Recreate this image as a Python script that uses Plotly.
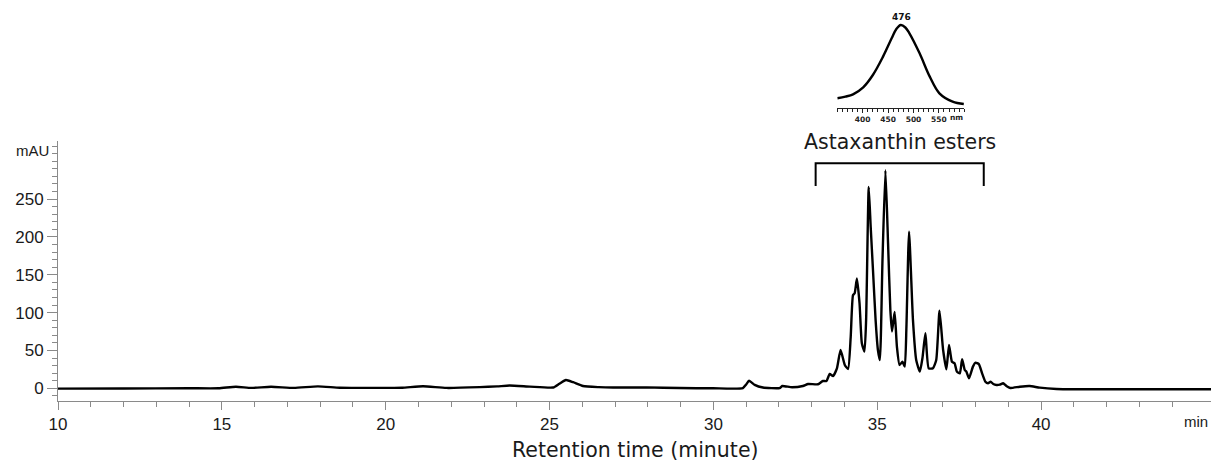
import plotly.graph_objects as go

# ---------------- data ----------------
time_min = [10.0, 12.0, 14.0, 14.9, 15.43, 15.9, 16.5, 17.2, 17.93, 18.6, 19.82, 20.5,
            21.14, 21.85, 22.87, 23.4, 23.78, 24.4, 25.11, 25.3, 25.5, 25.72, 26.02, 26.5,
            26.94, 27.96, 28.97, 29.99, 30.9, 31.0, 31.09, 31.26, 31.51, 32.02, 32.1, 32.4,
            32.73, 32.89, 33.19, 33.34, 33.45, 33.55, 33.65, 33.77, 33.88, 34.01, 34.11, 34.19,
            34.26, 34.31, 34.38, 34.46, 34.53, 34.61, 34.66, 34.74, 34.8, 34.87, 34.95, 35.02,
            35.08, 35.16, 35.25, 35.33, 35.4, 35.45, 35.53, 35.6, 35.68, 35.77, 35.84, 35.89,
            35.97, 36.09, 36.19, 36.3, 36.38, 36.47, 36.57, 36.7, 36.8, 36.9, 37.01, 37.11,
            37.19, 37.28, 37.36, 37.43, 37.52, 37.59, 37.67, 37.72, 37.8, 37.92, 38.0, 38.1,
            38.2, 38.3, 38.38, 38.46, 38.54, 38.64, 38.74, 38.84, 38.94, 39.06, 39.35, 39.65,
            39.96, 40.47, 41.48, 42.09, 45.2]
mau = [-0.5, -0.3, 0.0, 0.0, 2.0, 0.5, 2.0, 0.5, 2.5, 0.8, 0.5, 0.8,
       2.6, 0.5, 1.5, 2.5, 3.6, 2.2, 1.0, 6.0, 11.0, 8.0, 3.0, 1.5,
       1.0, 1.2, 0.3, 0.0, 0.3, 5.0, 10.0, 4.5, 1.0, 0.3, 3.0, 1.3,
       3.0, 5.7, 5.3, 9.6, 9.6, 18.9, 16.2, 26.4, 50.6, 30.8, 25.5, 68.0,
       123.0, 125.5, 145.0, 112.0, 59.4, 48.4, 90.0, 266.0, 213.0, 156.0, 90.0, 50.6,
       37.4, 169.5, 288.0, 191.5, 103.0, 75.0, 101.0, 55.0, 30.8, 35.0, 28.6, 81.0,
       207.0, 90.0, 37.0, 22.0, 40.0, 72.7, 26.4, 26.4, 37.4, 102.5, 50.6, 25.0,
       57.2, 35.0, 33.0, 22.0, 19.8, 38.3, 24.2, 22.0, 13.2, 28.6, 33.8, 32.0,
       19.8, 8.7, 6.6, 8.7, 5.7, 4.4, 4.8, 6.6, 3.0, 0.4, 2.1, 3.0,
       0.8, -0.9, -1.3, -1.3, -1.3]

wavelength_nm = [350, 366, 381, 401, 420, 440, 457, 466, 475, 484, 492, 512, 532, 551, 577, 599]
absorbance = [0.12, 0.14, 0.168, 0.252, 0.40, 0.62, 0.84, 0.95, 1.0, 0.97, 0.90, 0.66,
              0.38, 0.18, 0.08, 0.052]

x_tick_values = [10, 15, 20, 25, 30, 35, 40]
y_tick_values = [0, 50, 100, 150, 200, 250]
inset_tick_values = [400, 450, 500, 550]
bracket_start_min = 33.12
bracket_end_min = 38.25
group_label = "Astaxanthin esters"
peak_label = "476"

# ---------------- layout helpers ----------------
W, H = 1211, 461
ML, MR, MT, MB = 58, 0, 0, 60
PW, PH = W - ML - MR, H - MT - MB


def paper_x(px):
    return (px - ML) / PW


def paper_y(py):
    return (H - MB - py) / PH


AXIS_GREY = "#8a8a8a"
TEXT = "#1a1a1a"

fig = go.Figure()
fig.add_trace(go.Scatter(x=time_min, y=mau, mode="lines",
                         line=dict(color="black", width=2.4, shape="spline", smoothing=0.5),
                         hoverinfo="skip", showlegend=False))
fig.add_trace(go.Scatter(x=wavelength_nm, y=absorbance, mode="lines", xaxis="x2", yaxis="y2",
                         line=dict(color="black", width=2.4, shape="spline", smoothing=1.0),
                         hoverinfo="skip", showlegend=False))

minor_x = [v for v in range(11, 45) if v % 5 != 0]

fig.update_layout(
    width=W, height=H,
    margin=dict(l=ML, r=MR, t=MT, b=MB),
    paper_bgcolor="white", plot_bgcolor="white",
    xaxis=dict(range=[10, 10 + PW / 32.77], domain=[0, 1],
               showgrid=False, zeroline=False,
               showline=True, linecolor=AXIS_GREY, linewidth=1,
               tickmode="array", tickvals=x_tick_values, ticktext=[str(v) for v in x_tick_values],
               ticks="outside", ticklen=8, tickcolor=AXIS_GREY, tickwidth=1,
               tickfont=dict(family="Liberation Sans", size=17, color=TEXT),
               minor=dict(tickmode="array", tickvals=minor_x, ticks="outside", ticklen=5,
                          tickcolor=AXIS_GREY, tickwidth=1),
               anchor="y"),
    yaxis=dict(range=[-16.8, 327.1], domain=[0, paper_y(140.7)],
               showgrid=False, zeroline=False,
               showline=True, linecolor=AXIS_GREY, linewidth=1,
               tickmode="array", tickvals=y_tick_values, ticktext=[str(v) for v in y_tick_values],
               ticks="outside", ticklen=10, tickcolor=AXIS_GREY, tickwidth=1,
               tickfont=dict(family="Liberation Sans", size=17, color=TEXT),
               minor=dict(dtick=10, tick0=0, ticks="outside", ticklen=5,
                          tickcolor=AXIS_GREY, tickwidth=1),
               anchor="x"),
    xaxis2=dict(range=[350, 600], domain=[paper_x(837.3), paper_x(964.3)],
                anchor="y2", showgrid=False, zeroline=False,
                showline=True, linecolor="#222", linewidth=1.2,
                tickmode="array", tickvals=inset_tick_values,
                ticktext=[str(v) for v in inset_tick_values],
                ticks="outside", ticklen=4, tickcolor="#222", tickwidth=1,
                tickfont=dict(family="DejaVu Sans", size=7.5, color="#222", weight="bold"),
                minor=dict(dtick=10, tick0=350, ticks="outside", ticklen=2.5,
                           tickcolor="#222", tickwidth=1)),
    yaxis2=dict(range=[0, (108.3 - 10) / 83.3], domain=[paper_y(108.3), paper_y(10)],
                anchor="x2", visible=False),
)

# bracket over the ester group
bracket_top = (388.3 - 163.3) / 0.757
bracket_leg = (388.3 - 186.0) / 0.757
fig.add_shape(type="path", xref="x", yref="y",
              path=(f"M {bracket_start_min} {bracket_leg} L {bracket_start_min} {bracket_top} "
                    f"L {bracket_end_min} {bracket_top} L {bracket_end_min} {bracket_leg}"),
              line=dict(color="black", width=2))

annotations = [
    dict(text=group_label, xref="x", yref="paper", x=(bracket_start_min + bracket_end_min) / 2,
         y=paper_y(142), xanchor="center", yanchor="middle", showarrow=False,
         font=dict(family="DejaVu Sans", size=20.5, color=TEXT)),
    dict(text="Retention time (minute)", xref="paper", yref="paper", x=paper_x(635),
         y=paper_y(450), xanchor="center", yanchor="middle", showarrow=False,
         font=dict(family="DejaVu Sans", size=20.5, color=TEXT)),
    dict(text="mAU", xref="paper", yref="paper", x=paper_x(32), y=paper_y(150),
         xanchor="center", yanchor="middle", showarrow=False,
         font=dict(family="Liberation Sans", size=15, color=TEXT)),
    dict(text="min", xref="paper", yref="paper", x=paper_x(1196), y=paper_y(421),
         xanchor="center", yanchor="middle", showarrow=False,
         font=dict(family="Liberation Sans", size=15, color=TEXT)),
    dict(text=peak_label, xref="x2", yref="paper", x=476, y=paper_y(17.3),
         xanchor="center", yanchor="middle", showarrow=False,
         font=dict(family="DejaVu Sans", size=9, color="#111", weight="bold")),
    dict(text="nm", xref="paper", yref="paper", x=paper_x(956.7), y=paper_y(117.3),
         xanchor="center", yanchor="middle", showarrow=False,
         font=dict(family="DejaVu Sans", size=7.5, color="#222", weight="bold")),
]
fig.update_layout(annotations=annotations)

fig.write_html("out.html")
